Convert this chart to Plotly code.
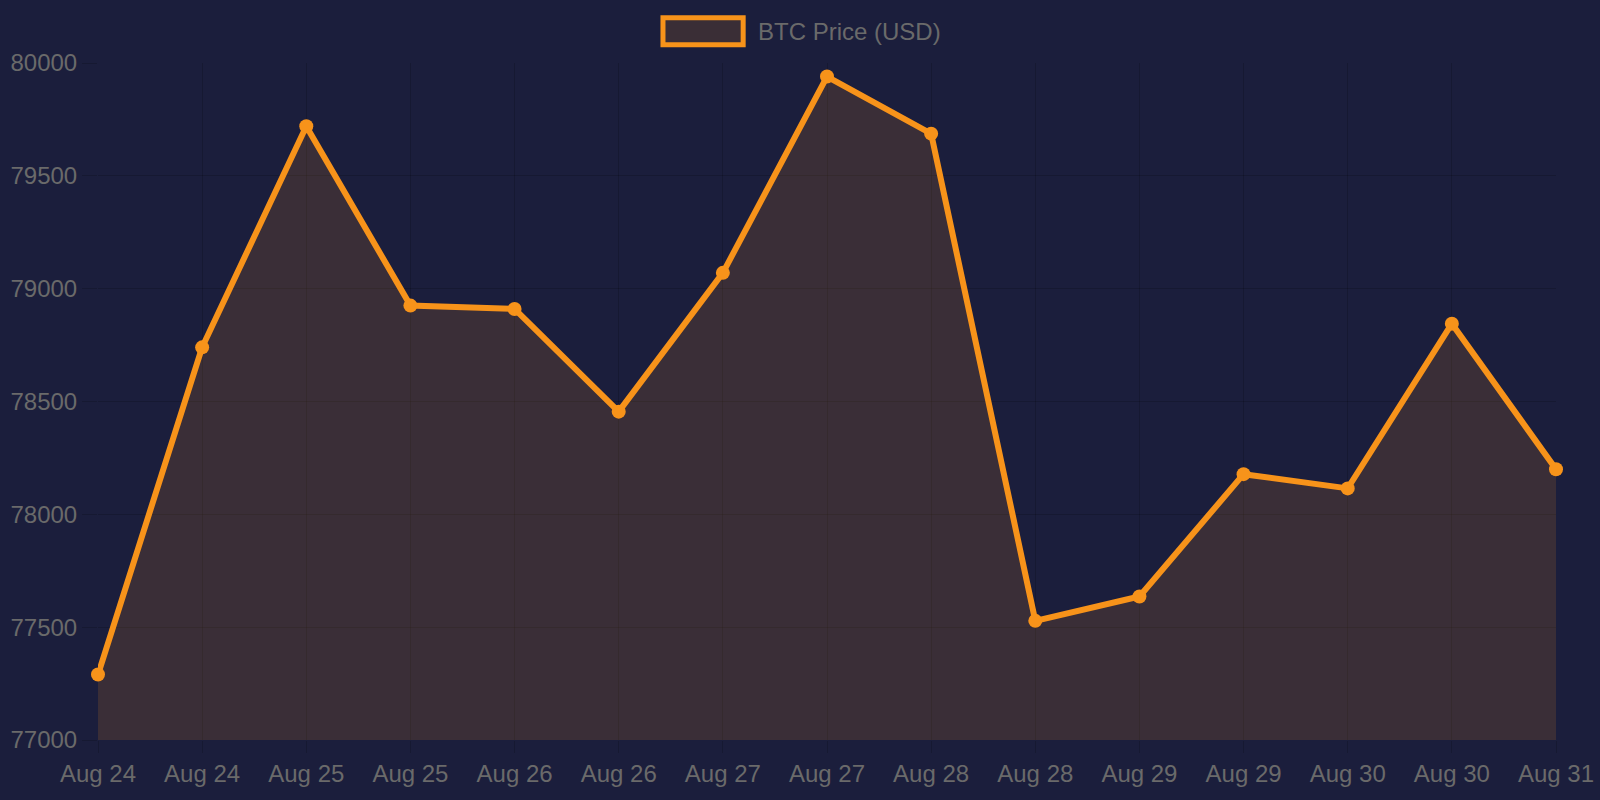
import plotly.graph_objects as go

# BTC price, one point per label (labels repeat, so x is positional)
labels = ["Aug 24", "Aug 24", "Aug 25", "Aug 25", "Aug 26", "Aug 26", "Aug 27", "Aug 27",
          "Aug 28", "Aug 28", "Aug 29", "Aug 29", "Aug 30", "Aug 30", "Aug 31"]
prices = [77290, 78740, 79720, 78925, 78910, 78455, 79070, 79940,
          79687, 77528, 77636, 78178, 78115, 78845, 78200]
y_ticks = [77000, 77500, 78000, 78500, 79000, 79500, 80000]
series_name = "BTC Price (USD)"

positions = list(range(len(labels)))

BG = "#1b1e3c"
ORANGE = "#f7931a"
FILL = "rgba(247,147,26,0.14)"
GRID = "rgba(0,0,0,0.16)"
TXT = "#6a6a6a"

fig = go.Figure()
fig.add_trace(go.Scatter(
    x=positions,
    y=prices,
    mode="lines+markers",
    name=series_name,
    line=dict(color=ORANGE, width=6),
    marker=dict(color=ORANGE, size=14),
    fill="tozeroy",
    fillcolor=FILL,
    cliponaxis=False,
    showlegend=False,
))

# Chart.js-style legend box + label on top
fig.add_shape(type="rect", xref="paper", yref="paper",
              x0=0.3875, x1=0.4425, y0=1.027, y1=1.067,
              line=dict(color=ORANGE, width=5), fillcolor="#3a2e36")
fig.add_annotation(text=series_name, xref="paper", yref="paper",
                   x=0.4513, y=1.047, xanchor="left", yanchor="middle",
                   showarrow=False, font=dict(size=24, color=TXT))

fig.update_layout(
    width=1600,
    height=800,
    paper_bgcolor=BG,
    plot_bgcolor=BG,
    margin=dict(l=98, r=44, t=63, b=60),
    font=dict(family="Liberation Sans, Arial, sans-serif", size=24, color=TXT),
    xaxis=dict(
        range=[0, len(labels) - 1],
        tickmode="array",
        tickvals=positions,
        ticktext=labels,
        automargin=False,
        showgrid=True,
        gridcolor=GRID,
        gridwidth=1,
        zeroline=False,
        ticks="outside",
        ticklen=12,
        tickcolor=GRID,
        tickfont=dict(size=24, color=TXT),
        showline=False,
    ),
    yaxis=dict(
        range=[77000, 80000],
        tickmode="array",
        tickvals=y_ticks,
        tickformat="d",
        automargin=False,
        showgrid=True,
        gridcolor=GRID,
        gridwidth=1,
        zeroline=False,
        ticks="outside",
        ticklen=15,
        tickcolor=GRID,
        tickfont=dict(size=24, color=TXT),
        showline=False,
    ),
)

fig.write_html("out.html", config={"displayModeBar": False},
               post_script="document.body.style.margin='0';document.body.style.background='#1b1e3c';")
